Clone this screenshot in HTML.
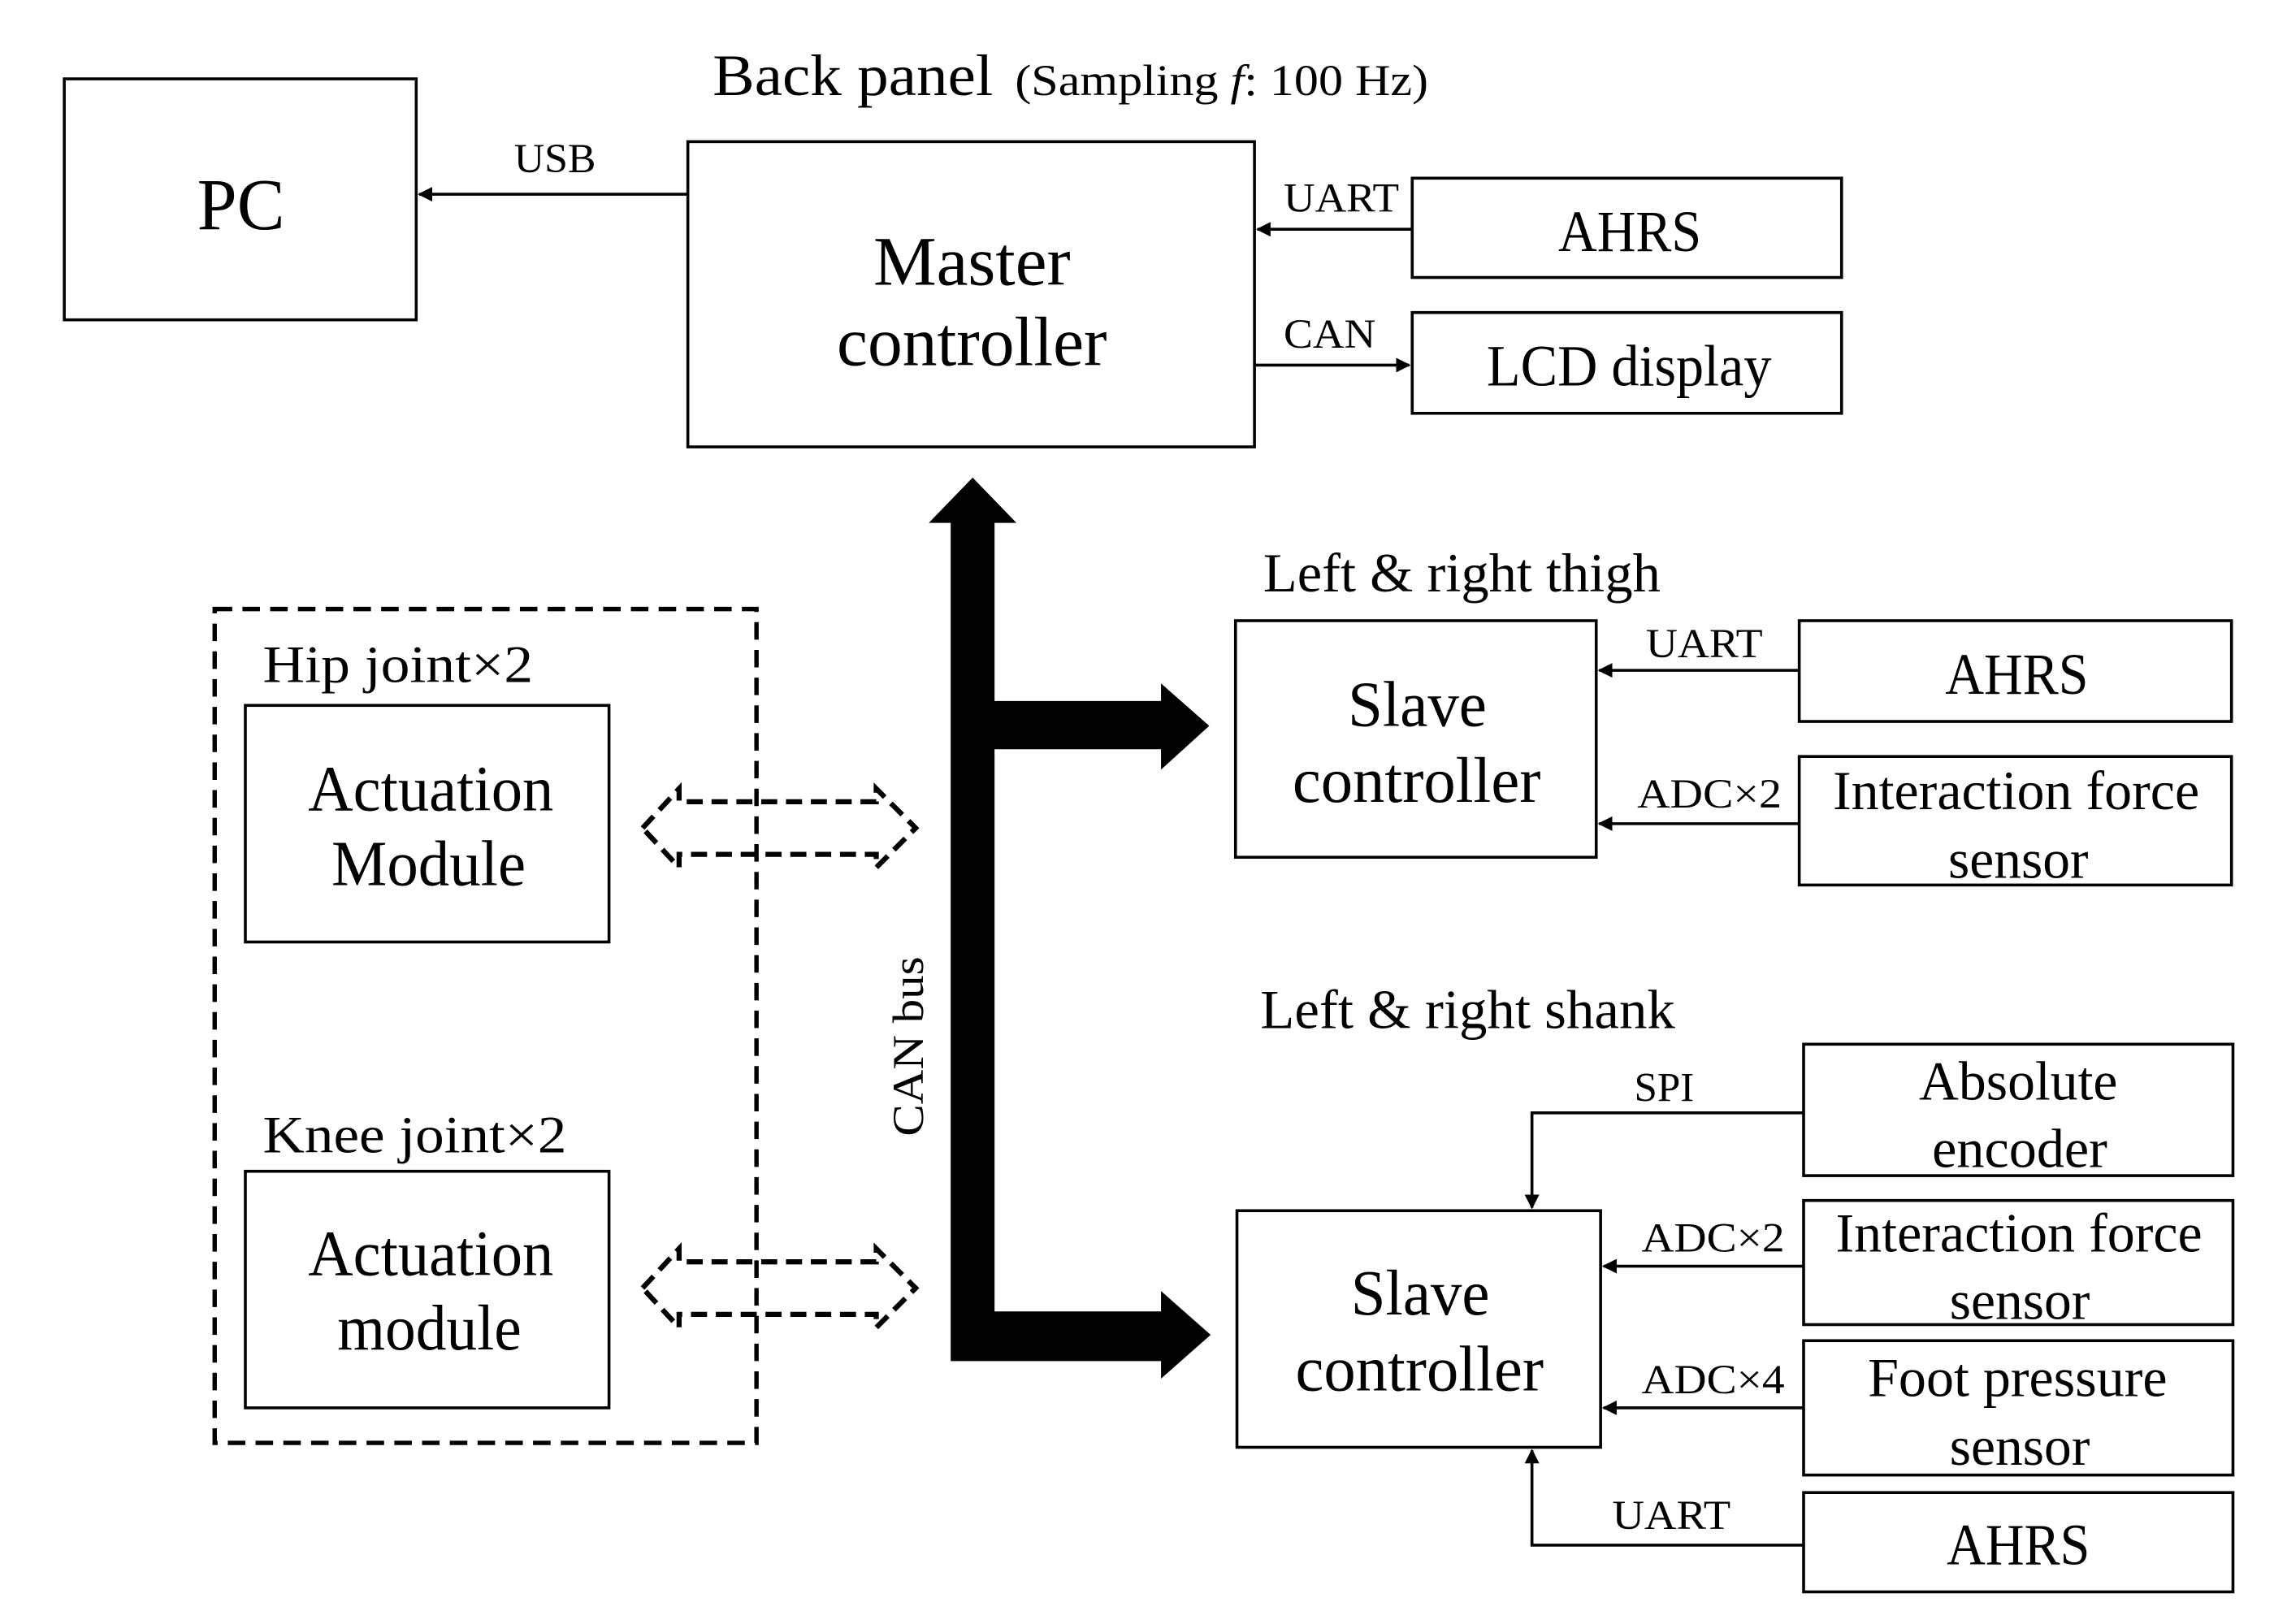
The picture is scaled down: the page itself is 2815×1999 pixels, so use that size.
<!DOCTYPE html>
<html><head><meta charset="utf-8"><style>html,body{margin:0;padding:0;background:#fff}svg{display:block}text{font-family:"Liberation Serif",serif;fill:#000}</style></head><body>
<svg width="2815" height="1999" viewBox="0 0 1566 1112" preserveAspectRatio="none" xmlns="http://www.w3.org/2000/svg">
<defs><marker id="a" markerWidth="10" markerHeight="10" refX="9" refY="5" orient="auto" markerUnits="userSpaceOnUse"><path d="M0,0 L10,5 L0,10 Z" fill="#000"/></marker></defs>
<g fill="none" stroke="#000" stroke-width="2">
<rect x="44" y="54" width="241" height="165"/>
<rect x="471" y="97" width="388" height="209"/>
<rect x="967" y="122" width="294" height="68"/>
<rect x="967" y="214" width="294" height="69"/>
<rect x="168" y="483" width="249" height="162"/>
<rect x="168" y="802" width="249" height="162"/>
<rect x="846" y="425" width="247" height="162"/>
<rect x="1232" y="425" width="296" height="69"/>
<rect x="1232" y="518" width="296" height="88"/>
<rect x="847" y="829" width="249" height="162"/>
<rect x="1235" y="715" width="294" height="90"/>
<rect x="1235" y="822" width="294" height="85"/>
<rect x="1235" y="918" width="294" height="92"/>
<rect x="1235" y="1022" width="294" height="68"/>
<line x1="471" y1="133" x2="287" y2="133" marker-end="url(#a)"/>
<line x1="967" y1="157" x2="861" y2="157" marker-end="url(#a)"/>
<line x1="859" y1="250" x2="965" y2="250" marker-end="url(#a)"/>
<line x1="1232" y1="459" x2="1095" y2="459" marker-end="url(#a)"/>
<line x1="1232" y1="564" x2="1095" y2="564" marker-end="url(#a)"/>
<polyline points="1235,762 1049,762 1049,827" marker-end="url(#a)"/>
<line x1="1235" y1="867" x2="1098" y2="867" marker-end="url(#a)"/>
<line x1="1235" y1="964" x2="1098" y2="964" marker-end="url(#a)"/>
<polyline points="1235,1058 1049,1058 1049,993" marker-end="url(#a)"/>
<rect x="147" y="417" width="371" height="571" stroke-width="3" stroke-dasharray="12 7"/>
<polygon points="440,567 465,540 465,549 600,549 600,540 627,567 600,594 600,585 465,585 465,594" stroke-width="3.5" stroke-dasharray="11 6"/>
<polygon points="440,882 465,855 465,864 600,864 600,855 627,882 600,909 600,900 465,900 465,909" stroke-width="3.5" stroke-dasharray="11 6"/>
</g>
<g fill="#000">
<polygon points="666,327 696,358 681,358 681,480 795,480 795,468 828,497 795,527 795,513 681,513 681,898 795,898 795,884 829,914 795,944 795,932 651,932 651,358 636,358"/>
</g>
<g lengthAdjust="spacingAndGlyphs">
<text x="135" y="157" font-size="50" textLength="60" lengthAdjust="spacingAndGlyphs">PC</text>
<text x="598" y="195" font-size="48" textLength="135" lengthAdjust="spacingAndGlyphs">Master</text>
<text x="573" y="250" font-size="48" textLength="185" lengthAdjust="spacingAndGlyphs">controller</text>
<text x="352" y="118" font-size="28" textLength="56" lengthAdjust="spacingAndGlyphs">USB</text>
<text x="879" y="145" font-size="28" textLength="79" lengthAdjust="spacingAndGlyphs">UART</text>
<text x="879" y="238" font-size="28" textLength="63" lengthAdjust="spacingAndGlyphs">CAN</text>
<text x="1067" y="172" font-size="40" textLength="98" lengthAdjust="spacingAndGlyphs">AHRS</text>
<text x="1018" y="264" font-size="40" textLength="195" lengthAdjust="spacingAndGlyphs">LCD display</text>
<text x="488" y="65" font-size="40" textLength="192" lengthAdjust="spacingAndGlyphs">Back panel</text>
<text x="695" y="65" font-size="30" textLength="283" lengthAdjust="spacingAndGlyphs">(Sampling <tspan font-style="italic">f</tspan>: 100 Hz)</text>
<text x="865" y="405" font-size="38" textLength="272" lengthAdjust="spacingAndGlyphs">Left &amp; right thigh</text>
<text x="863" y="704" font-size="38" textLength="284" lengthAdjust="spacingAndGlyphs">Left &amp; right shank</text>
<text x="180" y="467" font-size="36" textLength="185" lengthAdjust="spacingAndGlyphs">Hip joint×2</text>
<text x="180" y="789" font-size="36" textLength="208" lengthAdjust="spacingAndGlyphs">Knee joint×2</text>
<text x="211" y="555" font-size="44" textLength="168" lengthAdjust="spacingAndGlyphs">Actuation</text>
<text x="227" y="606" font-size="44" textLength="133" lengthAdjust="spacingAndGlyphs">Module</text>
<text x="211" y="873" font-size="44" textLength="168" lengthAdjust="spacingAndGlyphs">Actuation</text>
<text x="231" y="924" font-size="44" textLength="126" lengthAdjust="spacingAndGlyphs">module</text>
<text x="923" y="497" font-size="44" textLength="95" lengthAdjust="spacingAndGlyphs">Slave</text>
<text x="885" y="549" font-size="44" textLength="170" lengthAdjust="spacingAndGlyphs">controller</text>
<text x="1127" y="450" font-size="28" textLength="80" lengthAdjust="spacingAndGlyphs">UART</text>
<text x="1121" y="553" font-size="28" textLength="99" lengthAdjust="spacingAndGlyphs">ADC×2</text>
<text x="1332" y="475" font-size="40" textLength="98" lengthAdjust="spacingAndGlyphs">AHRS</text>
<text x="1255" y="554" font-size="38" textLength="251" lengthAdjust="spacingAndGlyphs">Interaction force</text>
<text x="1334" y="601" font-size="38" textLength="96" lengthAdjust="spacingAndGlyphs">sensor</text>
<text x="925" y="900" font-size="44" textLength="95" lengthAdjust="spacingAndGlyphs">Slave</text>
<text x="887" y="952" font-size="44" textLength="170" lengthAdjust="spacingAndGlyphs">controller</text>
<text x="1314" y="753" font-size="38" textLength="136" lengthAdjust="spacingAndGlyphs">Absolute</text>
<text x="1323" y="799" font-size="38" textLength="120" lengthAdjust="spacingAndGlyphs">encoder</text>
<text x="1257" y="857" font-size="38" textLength="251" lengthAdjust="spacingAndGlyphs">Interaction force</text>
<text x="1335" y="903" font-size="38" textLength="96" lengthAdjust="spacingAndGlyphs">sensor</text>
<text x="1279" y="956" font-size="38" textLength="205" lengthAdjust="spacingAndGlyphs">Foot pressure</text>
<text x="1335" y="1003" font-size="38" textLength="96" lengthAdjust="spacingAndGlyphs">sensor</text>
<text x="1333" y="1071" font-size="40" textLength="98" lengthAdjust="spacingAndGlyphs">AHRS</text>
<text x="1119" y="754" font-size="28" textLength="41" lengthAdjust="spacingAndGlyphs">SPI</text>
<text x="1124" y="857" font-size="28" textLength="98" lengthAdjust="spacingAndGlyphs">ADC×2</text>
<text x="1124" y="954" font-size="28" textLength="98" lengthAdjust="spacingAndGlyphs">ADC×4</text>
<text x="1104" y="1047" font-size="28" textLength="81" lengthAdjust="spacingAndGlyphs">UART</text>
<text x="-778" y="0" font-size="30" textLength="123" lengthAdjust="spacingAndGlyphs" transform="translate(632,0) rotate(-90)">CAN bus</text>
</g>
</svg>
</body></html>
